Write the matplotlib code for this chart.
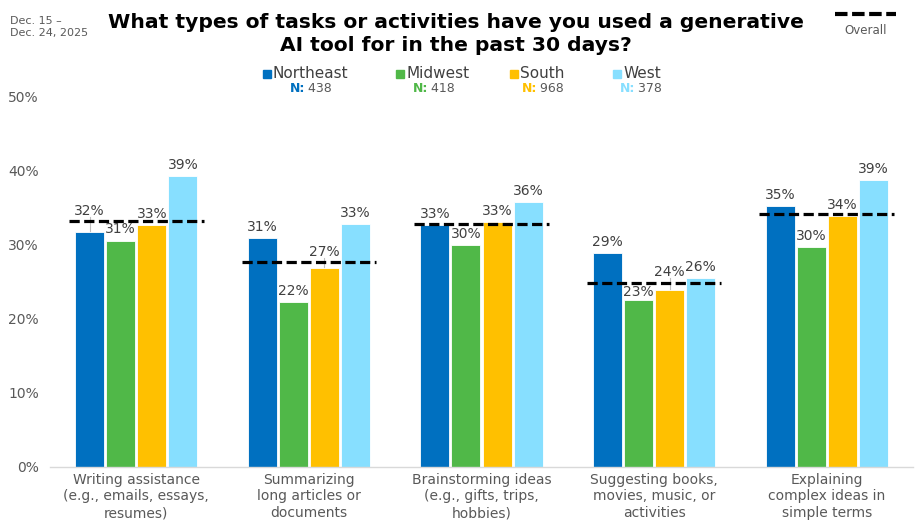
import matplotlib
matplotlib.use("Agg")
import matplotlib.pyplot as plt
import numpy as np

categories = ["Writing assistance\n(e.g., emails, essays,\nresumes)",
              "Summarizing\nlong articles or\ndocuments",
              "Brainstorming ideas\n(e.g., gifts, trips,\nhobbies)",
              "Suggesting books,\nmovies, music, or\nactivities",
              "Explaining\ncomplex ideas in\nsimple terms"]
regions = ["Northeast", "Midwest", "South", "West"]
region_n = ["438", "418", "968", "378"]
northeast = [31.8, 30.9, 32.7, 28.9, 35.3]
midwest = [30.6, 22.3, 30.0, 22.6, 29.7]
south = [32.7, 26.9, 33.1, 23.9, 33.9]
west = [39.3, 32.8, 35.8, 25.5, 38.8]
overall = [33.2, 27.7, 32.8, 24.9, 34.2]
yticks = [0, 10, 20, 30, 40, 50]

colors = ["#0070C0", "#50B848", "#FFC000", "#87DFFF"]
grey = "#595959"
dark = "#404040"
plt.rcParams["font.family"] = ["DejaVu Sans"]

fig = plt.figure(figsize=(9.17, 5.25), dpi=100)
ax = fig.add_axes([50/917, 1-467/525, 863/917, 370/525])

series = [northeast, midwest, south, west]
x = np.arange(len(categories))
bw = 0.168
step = 0.18
for i, vals in enumerate(series):
    pos = x + (i - 1.5) * step
    ax.bar(pos, vals, width=bw, color=colors[i], edgecolor="white", linewidth=0.6, zorder=2)
    for p, v, ov in zip(pos, vals, overall):
        yc = v + 1.5
        moved_up = False
        if abs(yc - ov) < 0.95:
            if ov - v >= 2.1:
                yc = ov - 1.3
            else:
                yc = ov + 1.4
                moved_up = True
        if moved_up:
            ax.plot([p, p], [v, yc - 0.8], color="#BFBFBF", lw=0.8, zorder=1.5)
        ax.text(p, yc, f"{round(v):.0f}%", ha="center", va="center",
                fontsize=10, color=dark, zorder=4)

for xi, ov in zip(x, overall):
    ax.plot([xi - 0.39, xi + 0.39], [ov, ov], color="black", lw=2.3,
            dashes=(3.2, 1.4), zorder=3)

ax.set_xlim(-0.5, len(categories) - 0.5)
ax.set_ylim(0, 50)
ax.set_yticks(yticks)
ax.set_yticklabels([f"{t}%" for t in yticks], fontsize=10, color=grey)
ax.set_xticks(x)
ax.set_xticklabels(categories, fontsize=10, color=grey, linespacing=1.25)
ax.tick_params(axis="both", length=0, pad=8)
ax.tick_params(axis="x", pad=4)
for s in ["top", "right", "left"]:
    ax.spines[s].set_visible(False)
ax.spines["bottom"].set_color("#D9D9D9")
ax.spines["bottom"].set_linewidth(1)

# Title
fig.text(456/917, 1-34/525, "What types of tasks or activities have you used a generative\nAI tool for in the past 30 days?",
         ha="center", va="center", fontsize=14.6, fontweight="bold", color="black", linespacing=1.25)

# Date
fig.text(10/917, 1-27/525, "Dec. 15 –\nDec. 24, 2025", ha="left", va="center",
         fontsize=8, color=grey, linespacing=1.3)

# Overall legend
fig.lines.append(plt.Line2D([835/917, 896/917], [1-14/525, 1-14/525], transform=fig.transFigure,
                            color="black", lw=3, dashes=(3.0, 1.1)))
fig.text(866/917, 1-30/525, "Overall", ha="center", va="center", fontsize=8.5, color=grey)

# Region legend
sq_x = [263, 396, 510, 613]
n_x = [290, 413, 522, 620]
for i, r in enumerate(regions):
    fig.patches.append(plt.Rectangle((sq_x[i]/917, 1-78/525), 8/917, 8/525,
                                     transform=fig.transFigure, color=colors[i]))
    fig.text((sq_x[i] + 10)/917, 1-74/525, r, ha="left", va="center", fontsize=11, color=dark)
    fig.text(n_x[i]/917, 1-89/525, "N:", ha="left", va="center", fontsize=9,
             color=colors[i], fontweight="bold")
    fig.text((n_x[i] + 14)/917, 1-89/525, " " + region_n[i], ha="left", va="center",
             fontsize=9, color=grey)

fig.savefig("out.png", dpi=100)
